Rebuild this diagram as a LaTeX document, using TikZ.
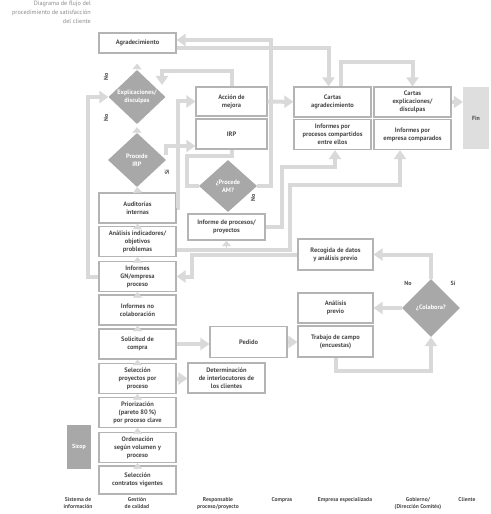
\documentclass[tikz,border=0pt]{standalone}
\usepackage{fontspec}
\setmainfont{PT Sans}
\usetikzlibrary{arrows.meta, shapes.geometric}

\definecolor{textogris}{HTML}{4A4A4A}
\definecolor{bordegris}{HTML}{B4B4B4}
\definecolor{flujogris}{HTML}{D9D9D9}
\definecolor{rombogris}{HTML}{A8A8A8}
\definecolor{fingris}{HTML}{DEDEDE}
\definecolor{titulogris}{HTML}{8A8A8A}

\newcommand{\cajafont}{\fontsize{9.2}{11.5}\selectfont\bfseries}
\newcommand{\rombofont}{\fontsize{9}{11}\selectfont\bfseries}
\newcommand{\titfont}{\fontsize{8.8}{13}\selectfont}
\newcommand{\cabfont}{\fontsize{8}{10}\selectfont\bfseries}
\newcommand{\etqfont}{\fontsize{8.5}{10}\selectfont\bfseries}

\begin{document}
\begin{tikzpicture}[x=0.05cm, y=-0.05cm,
    caja/.style={draw=bordegris, line width=0.06cm, fill=white, text=textogris, font=\cajafont,
        align=center, inner sep=1pt, minimum width=3.85cm, minimum height=1.5cm},
    rombo/.style={diamond, fill=rombogris, inner sep=0pt, minimum width=2.85cm, minimum height=2.7cm},
    rtxt/.style={text=white, font=\rombofont, align=center},
    flujo/.style={draw=flujogris, line width=0.2cm, -{Triangle[width=0.6cm,length=0.45cm]}},
    linea/.style={draw=flujogris, line width=0.2cm},
    punta/.style={draw=flujogris, line width=0.5pt, -{Triangle[width=0.45cm,length=0.28cm]}},
    etq/.style={text=textogris, font=\etqfont, inner sep=0pt},
    cab/.style={text=textogris, font=\cabfont, align=center, anchor=north, inner sep=0pt},
    titulo/.style={text=titulogris, font=\titfont, align=right, inner sep=0pt}]
    \useasboundingbox (0,0) rectangle (490,514);

    \node[titulo, anchor=north east] (titulo) at (91,0.5) {Diagrama de flujo del\\procedimiento de satisfacción\\del cliente};

    \node[caja, minimum height=1cm] (agr) at (137.5,43) {Agradecimiento};
    \node[rombo, label={[rtxt]center:Explicaciones/\\disculpas}] (expl) at (137,97) {};
    \node[rombo, minimum width=2.9cm] (pirp) at (137,160) {};
    \node[rtxt] at (pirp) {Procede\\IRP};
    \node[caja] (aud) at (137.5,208) {Auditorías\\internas};
    \node[caja] (anal) at (137.5,241.5) {Análisis indicadores/\\objetivos\\problemas};
    \node[caja] (infgn) at (137.5,276.5) {Informes\\GN/empresa\\proceso};
    \node[caja] (infno) at (137.5,310) {Informes no\\colaboración};
    \node[caja] (sol) at (137.5,344) {Solicitud de\\compra};
    \node[caja] (selp) at (137.5,378.5) {Selección\\proyectos por\\proceso};
    \node[caja] (prio) at (137.5,412.5) {Priorización\\(pareto 80\,\%)\\por proceso clave};
    \node[caja] (orde) at (137.5,447.5) {Ordenación\\según volumen y\\proceso};
    \node[caja, minimum height=1.4cm] (selc) at (137.5,480) {Selección\\contratos vigentes};
    \node[fill=rombogris, text=white, font=\etqfont, minimum width=1.2cm, minimum height=2.2cm] (sicop) at (79,447) {Sicop};

    \node[caja, minimum width=3.55cm, minimum height=1.45cm] (acc) at (231.5,101.5) {Acción de\\mejora};
    \node[caja, minimum width=3.55cm] (irp) at (231.5,134) {IRP};
    \node[rombo, minimum width=2.9cm, minimum height=2.6cm] (pam) at (228,186) {};
    \node[rtxt] at (pam) {¿Procede\\AM?};
    \node[caja, minimum height=1.3cm] (infp) at (226.5,227) {Informe de procesos/\\proyectos};
    \node[caja] (det) at (226.5,378) {Determinación\\de interlocutores de\\los clientes};
    \node[caja, minimum height=1.55cm] (ped) at (248.5,342) {Pedido};

    \node[caja] (carag) at (332.5,102) {Cartas\\agradecimiento};
    \node[caja] (infpc) at (332.5,134.5) {Informes por\\procesos compartidos\\entre ellos};
    \node[caja] (carex) at (412.5,102) {Cartas\\explicaciones/\\disculpas};
    \node[caja] (infec) at (412.5,134.5) {Informes por\\empresa comparados};
    \node[caja, minimum width=3.75cm, minimum height=1.55cm] (rec) at (335.5,254.5) {Recogida de datos\\y análisis previo};
    \node[caja, minimum width=3.75cm] (anp) at (335.5,308) {Análisis\\previo};
    \node[caja, minimum width=3.75cm, minimum height=1.55cm] (trab) at (335.5,341.5) {Trabajo de campo\\(encuestas)};
    \node[rombo, minimum width=2.9cm, minimum height=2.9cm] (col) at (431,308) {};
    \node[rtxt] at (col) {¿Colabora?};
    \node[fill=fingris, text=textogris, font=\etqfont, minimum width=1.3cm, minimum height=3.1cm] (fin) at (476,118) {Fin};

    \node[etq, rotate=90] (noexpl) at (106,77) {No};
    \node[etq, rotate=90] (nopirp) at (106,118) {No};
    \node[etq, rotate=90] (sipirp) at (167,172) {Sí};
    \node[etq, rotate=90] (nopam) at (253,198) {No};
    \node[etq] (nocol) at (408,283) {No};
    \node[etq] (sicol) at (453,283) {Sí};

    \draw[flujo] (pam.east) -| (271,40) -- (agr.east |- 0,40);
    \draw[flujo] (agr.east |- 0,48) -| ([xshift=-0.2cm]carag.north);
    \draw[flujo] ([xshift=0.4cm]carag.north) -- ++(0,-24) -| (carex.north);
    \draw[flujo] (acc.north) -- ++(0,-15) -| (162,85);
    \draw[flujo] (infgn.west) -| ([xshift=-1cm]expl.west) -- (expl.west);
    \draw[flujo] (aud.east) -| ([xshift=-0.85cm]acc.west) -- (acc.west);
    \draw[flujo] ([yshift=0.25cm]pirp.east) |- ([yshift=-0.6cm]irp.west);
    \draw[linea] (irp.south) -- ++(0,6) -| ([xshift=-0.6cm]pam.west) -- (pam.west);
    \draw[flujo] ([yshift=-0.4cm]anal.east) -| (290,185) -| ([xshift=-0.625cm]infec.south);
    \draw[flujo] (infp.east) -| (282,167) -| ([xshift=0.125cm]infpc.south);
    \draw[flujo] (rec.west) -| ([xshift=0.75cm]infgn.east) -- (infgn.east);
    \draw[flujo] (col.north) |- (rec.east);
    \draw[flujo] (trab.south) -- ++(0,13) -| (col.south);

    \draw
    (acc) edge[flujo] (carag)
    (carex.east) edge[flujo] (carex.east -| fin.west)
    (col) edge[flujo] (anp)
    (sol.east) edge[flujo] (sol.east -| ped.west)
    (ped.east) edge[flujo] (ped.east -| trab.west)
    (selp.east) edge[flujo] (selp.east -| det.west)
    (infp.south |- 0,249.5) edge[punta] (infp.south)
    (expl.north) edge[punta, shorten >=0.5cm] (agr.south)
    (pirp.north) edge[punta, shorten >=0.15cm] (expl.south)
    (aud.north) edge[punta] (pirp.south)
    (anal.north) edge[punta] (aud.south)
    (infgn.north) edge[punta] (anal.south)
    (infno.north) edge[punta] (infgn.south)
    (sol.north) edge[punta] (infno.south)
    (selp.north) edge[punta] (sol.south)
    (prio.north) edge[punta] (selp.south)
    (orde.north) edge[punta] (prio.south)
    (selc.north) edge[punta] (orde.south);

    \node[cab] (csis) at (78,497) {Sistema de\\información};
    \node[cab] (cges) at (137,497) {Gestión\\de calidad};
    \node[cab] (cres) at (218,497) {Responsable\\proceso/proyecto};
    \node[cab] (ccom) at (282,497) {Compras};
    \node[cab] (cemp) at (345,497) {Empresa especializada};
    \node[cab] (cgob) at (418,497) {Gobierno/\\(Dirección Comités)};
    \node[cab] (ccli) at (467,497) {Cliente};
\end{tikzpicture}
\end{document}
